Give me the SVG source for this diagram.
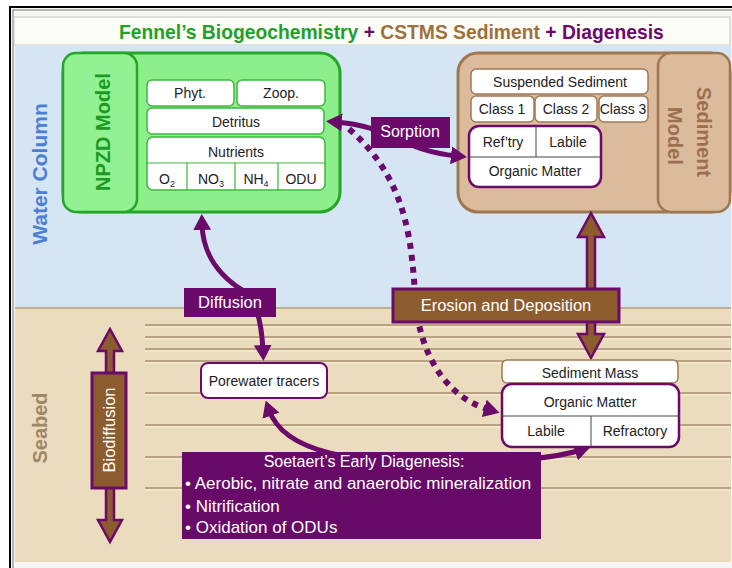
<svg xmlns="http://www.w3.org/2000/svg" width="732" height="568" viewBox="0 0 732 568">
<defs>
<style>
.t{font-family:"Liberation Sans",Arial,sans-serif;fill:#222;font-size:14px;text-anchor:middle}
.w{font-family:"Liberation Sans",Arial,sans-serif;fill:#fff;text-anchor:middle}
.wl{font-family:"Liberation Sans",Arial,sans-serif;fill:#fff;text-anchor:start;font-size:17px}
.g{fill:#fff;stroke:#3cb83c;stroke-width:1.5}
.b{fill:#fff;stroke:#a07a55;stroke-width:1.5}
.p{fill:#fff;stroke:#6b0a6b;stroke-width:2.5}
.lbl{fill:#6b0a6b}
.brn{fill:#8c5b2e;stroke:#6b0a6b;stroke-width:3}
.con{fill:none;stroke:#6b0a6b;stroke-width:5}
.sl{stroke:#a8916e;stroke-width:1.5}
.sh{stroke:#f7eedb;stroke-width:1}
</style>
<marker id="ah" viewBox="0 0 16 18" markerWidth="16" markerHeight="18" refX="6" refY="9" orient="auto-start-reverse" markerUnits="userSpaceOnUse">
<path d="M0,0 L16,9 L0,18 z" fill="#6b0a6b"/>
</marker>
</defs>

<!-- frame and backgrounds -->
<rect x="0" y="0" width="732" height="568" fill="#ffffff"/>
<rect x="10" y="7" width="740" height="580" fill="#f5f5f3" stroke="#000" stroke-width="2"/>
<rect x="13" y="10" width="740" height="580" fill="none" stroke="#777" stroke-width="1"/>
<rect x="14" y="17" width="716" height="28" fill="#fdfdf8" stroke="#c8c8c0" stroke-width="1"/>
<rect x="15" y="45" width="716" height="263" fill="#d5e5f4"/>
<rect x="15" y="308" width="716" height="254" fill="#ebdcbd"/>
<line x1="15" y1="308" x2="731" y2="308" stroke="#b59e7c" stroke-width="1.5"/>
<g id="strata">
<line class="sl" x1="145" y1="325" x2="731" y2="325"/><line class="sh" x1="145" y1="327" x2="731" y2="327"/>
<line class="sl" x1="145" y1="337" x2="731" y2="337"/><line class="sh" x1="145" y1="339" x2="731" y2="339"/>
<line class="sl" x1="145" y1="349" x2="731" y2="349"/><line class="sh" x1="145" y1="351" x2="731" y2="351"/>
<line class="sl" x1="145" y1="361" x2="731" y2="361"/><line class="sh" x1="145" y1="363" x2="731" y2="363"/>
<line class="sl" x1="145" y1="393" x2="731" y2="393"/><line class="sh" x1="145" y1="395" x2="731" y2="395"/>
<line class="sl" x1="145" y1="425" x2="731" y2="425"/><line class="sh" x1="145" y1="427" x2="731" y2="427"/>
<line class="sl" x1="145" y1="457" x2="731" y2="457"/><line class="sh" x1="145" y1="459" x2="731" y2="459"/>
<line class="sl" x1="145" y1="488" x2="731" y2="488"/><line class="sh" x1="145" y1="490" x2="731" y2="490"/>
</g>

<!-- title -->
<text x="119" y="39" font-family="'Liberation Sans',Arial,sans-serif" font-weight="bold" font-size="19.3"><tspan fill="#22a02a">Fennel’s Biogeochemistry</tspan> <tspan fill="#6b0a6b">+</tspan> <tspan fill="#a0703c">CSTMS Sediment</tspan> <tspan fill="#6b0a6b">+ Diagenesis</tspan></text>

<!-- side labels -->
<text transform="translate(47,174) rotate(-90)" font-family="'Liberation Sans',Arial,sans-serif" font-weight="bold" font-size="21" fill="#4a7fd4" text-anchor="middle">Water Column</text>
<text transform="translate(47,428) rotate(-90)" font-family="'Liberation Sans',Arial,sans-serif" font-weight="bold" font-size="20" fill="#9e8767" text-anchor="middle">Seabed</text>

<!-- NPZD model -->
<g id="npzd">
<rect x="63" y="53" width="277" height="159" rx="20" fill="#8cef8c" stroke="#25a52a" stroke-width="3"/>
<rect x="63" y="53" width="74" height="159" rx="13" fill="#92f192" stroke="#25a52a" stroke-width="2.5"/>
<text transform="translate(110,132) rotate(-90)" font-family="'Liberation Sans',Arial,sans-serif" font-weight="bold" font-size="20" fill="#1c9a24" text-anchor="middle">NPZD Model</text>
<rect class="g" x="147" y="80" width="87" height="26" rx="5"/>
<rect class="g" x="237" y="80" width="88" height="26" rx="5"/>
<rect class="g" x="147" y="108" width="177" height="26" rx="5"/>
<rect class="g" x="147" y="137" width="178" height="53" rx="6"/>
<line x1="147" y1="163" x2="325" y2="163" stroke="#3cb83c" stroke-width="1.2"/>
<line x1="187" y1="163" x2="187" y2="190" stroke="#3cb83c" stroke-width="1.2"/>
<line x1="235" y1="163" x2="235" y2="190" stroke="#3cb83c" stroke-width="1.2"/>
<line x1="278" y1="163" x2="278" y2="190" stroke="#3cb83c" stroke-width="1.2"/>
<text class="t" x="190" y="98">Phyt.</text>
<text class="t" x="281" y="98">Zoop.</text>
<text class="t" x="236" y="127">Detritus</text>
<text class="t" x="236" y="157">Nutrients</text>
<text class="t" x="167" y="184">O<tspan font-size="9" dy="3">2</tspan></text>
<text class="t" x="211" y="184">NO<tspan font-size="9" dy="3">3</tspan></text>
<text class="t" x="256" y="184">NH<tspan font-size="9" dy="3">4</tspan></text>
<text class="t" x="301" y="184">ODU</text>
</g>

<!-- Sediment model -->
<g id="sediment-model">
<rect x="458" y="53" width="272" height="159" rx="20" fill="#dcba9c" stroke="#a07850" stroke-width="3"/>
<rect x="658" y="53" width="72" height="159" rx="13" fill="#dcba9c" stroke="#a07850" stroke-width="2.5"/>
<text transform="translate(697,132) rotate(90)" font-family="'Liberation Sans',Arial,sans-serif" font-weight="bold" font-size="20" fill="#9a7050" text-anchor="middle"><tspan x="0" y="0">Sediment</tspan><tspan x="4" y="29">Model</tspan></text>
<rect class="b" x="471" y="69" width="177" height="25" rx="5"/>
<rect class="b" x="471" y="96" width="63" height="26" rx="5"/>
<rect class="b" x="535" y="96" width="62" height="26" rx="5"/>
<rect class="b" x="599" y="96" width="49" height="26" rx="5"/>
<text class="t" x="560" y="87">Suspended Sediment</text>
<text class="t" x="502" y="114" font-size="13.5">Class 1</text>
<text class="t" x="566" y="114" font-size="13.5">Class 2</text>
<text class="t" x="623" y="114" font-size="13.5">Class 3</text>
<rect class="p" x="469" y="126" width="132" height="61" rx="10"/>
<line x1="469" y1="157" x2="601" y2="157" stroke="#444" stroke-width="1"/>
<line x1="536" y1="126" x2="536" y2="157" stroke="#444" stroke-width="1"/>
<text class="t" x="503" y="147">Ref’try</text>
<text class="t" x="568" y="147">Labile</text>
<text class="t" x="535" y="176" font-size="14.5">Organic Matter</text>
</g>

<!-- connectors -->
<g id="connectors">
<path class="con" d="M336 122 C390 126 400 150 457 156" marker-start="url(#ah)" marker-end="url(#ah)"/>
<path d="M349 129 C420 190 410 270 418 320 C428 370 455 400 490 410" fill="none" stroke="#6b0a6b" stroke-width="6" stroke-dasharray="6 6" marker-end="url(#ah)"/>
<path class="con" d="M202 224 C203 258 222 278 245 292 C258 302 262 330 263 351" marker-start="url(#ah)" marker-end="url(#ah)"/>
<path class="con" d="M269 410 C285 455 360 462 430 462 C520 462 555 458 581 450" marker-start="url(#ah)" marker-end="url(#ah)"/>
<polygon points="591,213 604,237 595,237 595,334 604,334 591,358 578,334 587,334 587,237 578,237" fill="#8c5b2e" stroke="#6b0a6b" stroke-width="2.5"/>
<polygon points="110,329 122,351 114,351 114,520 122,520 110,542 98,520 106,520 106,351 98,351" fill="#8c5b2e" stroke="#6b0a6b" stroke-width="2.5"/>
</g>

<!-- process labels -->
<g id="sorption">
<rect class="lbl" x="371" y="117" width="79" height="31"/>
<text class="w" x="410" y="137" font-size="16">Sorption</text>
</g>
<g id="diffusion">
<rect class="lbl" x="184" y="288" width="92" height="29"/>
<text class="w" x="230" y="308" font-size="16.5">Diffusion</text>
</g>
<g id="erosion">
<rect class="brn" x="393" y="289" width="226" height="33"/>
<text class="w" x="506" y="311" font-size="16.5">Erosion and Deposition</text>
</g>
<g id="biodiffusion">
<rect class="brn" x="92" y="373" width="34" height="115"/>
<text class="w" transform="translate(115,430) rotate(-90)" font-size="16.5">Biodiffusion</text>
</g>

<!-- seabed nodes -->
<g id="porewater">
<rect x="201" y="363" width="126" height="35" rx="7" fill="#fff" stroke="#6b0a6b" stroke-width="2"/>
<text class="t" x="264" y="386" font-size="15">Porewater tracers</text>
</g>
<g id="sediment-mass">
<rect class="b" x="502" y="360" width="176" height="23" rx="5"/>
<text class="t" x="590" y="378">Sediment Mass</text>
</g>
<g id="seabed-om">
<rect class="p" x="502" y="384" width="177" height="63" rx="10"/>
<line x1="502" y1="416" x2="679" y2="416" stroke="#444" stroke-width="1"/>
<line x1="591" y1="416" x2="591" y2="447" stroke="#444" stroke-width="1"/>
<text class="t" x="590" y="407" font-size="14.5">Organic Matter</text>
<text class="t" x="546" y="436" font-size="14.5">Labile</text>
<text class="t" x="635" y="436" font-size="14.5">Refractory</text>
</g>
<g id="diagenesis">
<rect x="182" y="452" width="359" height="87" fill="#680a68"/>
<text class="w" x="364" y="467" font-size="16">Soetaert’s Early Diagenesis:</text>
<text class="wl" x="185" y="489">• Aerobic, nitrate and anaerobic mineralization</text>
<text class="wl" x="185" y="512">• Nitrification</text>
<text class="wl" x="185" y="533">• Oxidation of ODUs</text>
</g>
</svg>
